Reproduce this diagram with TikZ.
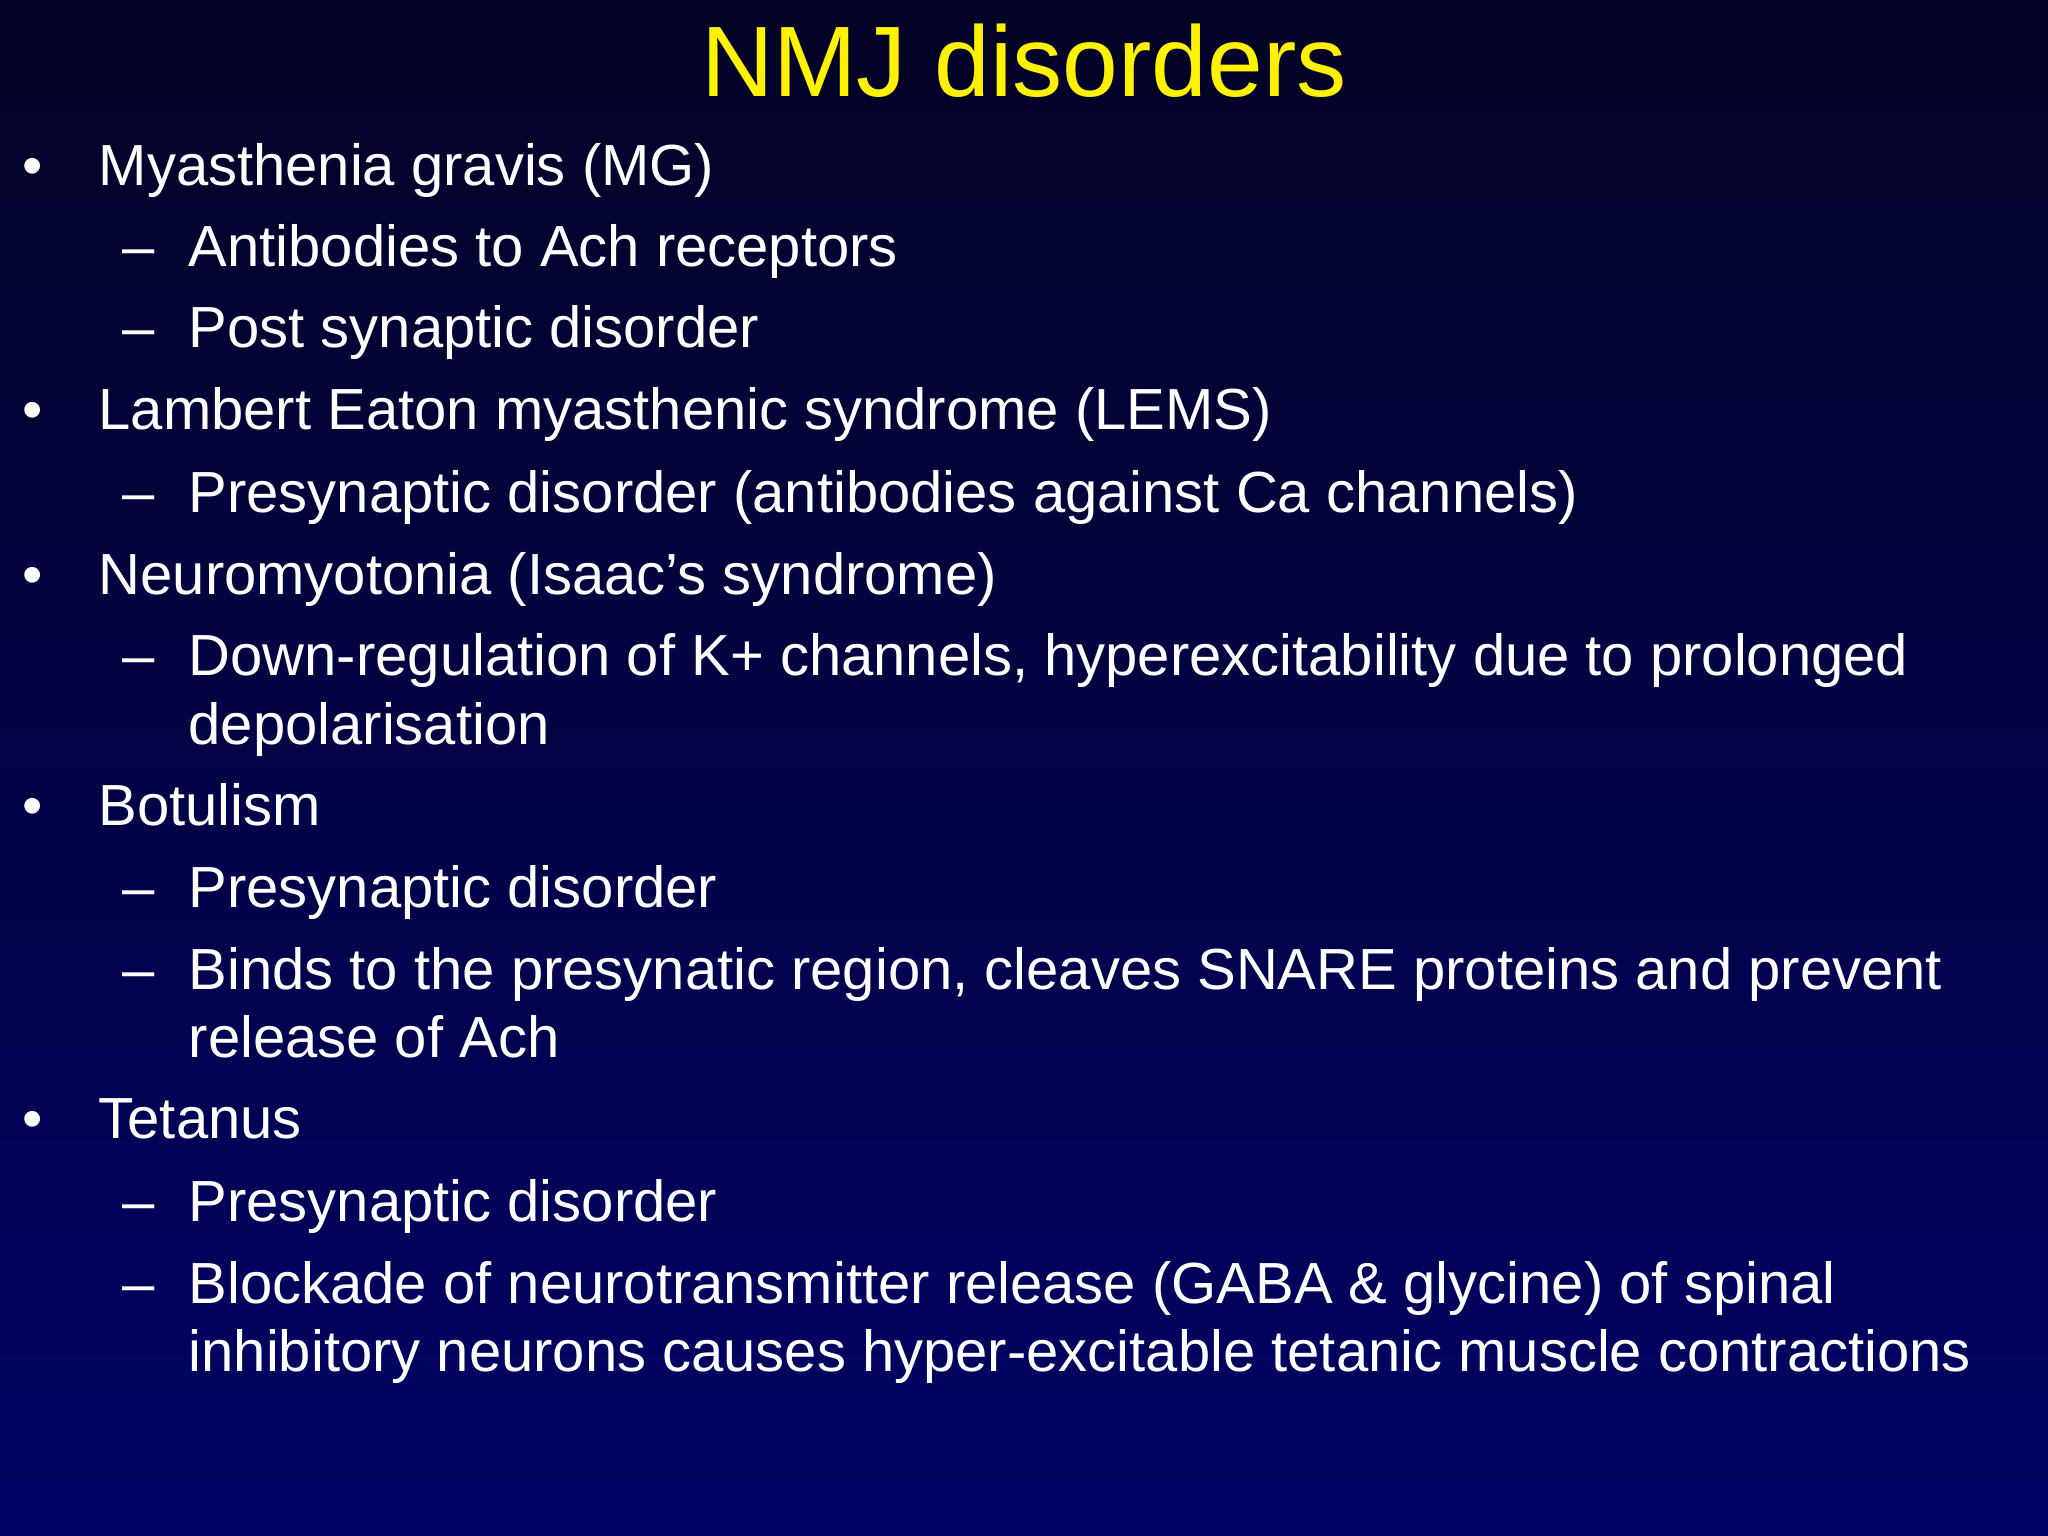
\documentclass[tikz,border=0pt]{standalone}
\usepackage{fontspec}
\setmainfont{Liberation Sans}
\begin{document}
\begin{tikzpicture}[x=1cm,y=-1cm,
  bodytxt/.style={anchor=base west,inner sep=0pt,text=white,font=\fontsize{16.5}{20}\selectfont},
  title/.style={anchor=base,inner sep=0pt,text=yellow,font=\fontsize{28.5}{34}\selectfont}]
\definecolor{topc}{RGB}{3,3,38}
\definecolor{botc}{RGB}{2,2,102}
\shade[top color=topc,bottom color=botc] (0,0) rectangle (20.48,15.36);
\useasboundingbox (0,0) rectangle (20.48,15.36);
\node[title] (t) at (10.24,0.97) {NMJ disorders};
\def\B#1#2#3{\node[bodytxt] (b#1) at (0.22,#2) {•}; \node[bodytxt] (l#1) at (0.98,#2) {#3};}
\def\D#1#2#3{\node[bodytxt] (d#1) at (1.22,#2) {–}; \node[bodytxt] (m#1) at (1.88,#2) {#3};}
\def\C#1#2#3{\node[bodytxt] (c#1) at (1.88,#2) {#3};}
\B{1}{1.855}{Myasthenia gravis (MG)}
\D{1}{2.664}{Antibodies to Ach receptors}
\D{2}{3.474}{Post synaptic disorder}
\B{2}{4.297}{Lambert Eaton myasthenic syndrome (LEMS)}
\D{3}{5.120}{Presynaptic disorder (antibodies against Ca channels)}
\B{3}{5.942}{Neuromyotonia (Isaac’s syndrome)}
\D{4}{6.752}{Down-regulation of K+ channels, hyperexcitability due to prolonged}
\C{4}{7.444}{depolarisation}
\B{4}{8.254}{Botulism}
\D{5}{9.077}{Presynaptic disorder}
\D{6}{9.899}{Binds to the presynatic region, cleaves SNARE proteins and prevent}
\C{6}{10.579}{release of Ach}
\B{5}{11.388}{Tetanus}
\D{7}{12.211}{Presynaptic disorder}
\D{8}{13.034}{Blockade of neurotransmitter release (GABA \& glycine) of spinal}
\C{8}{13.713}{inhibitory neurons causes hyper-excitable tetanic muscle contractions}
\end{tikzpicture}
\end{document}
